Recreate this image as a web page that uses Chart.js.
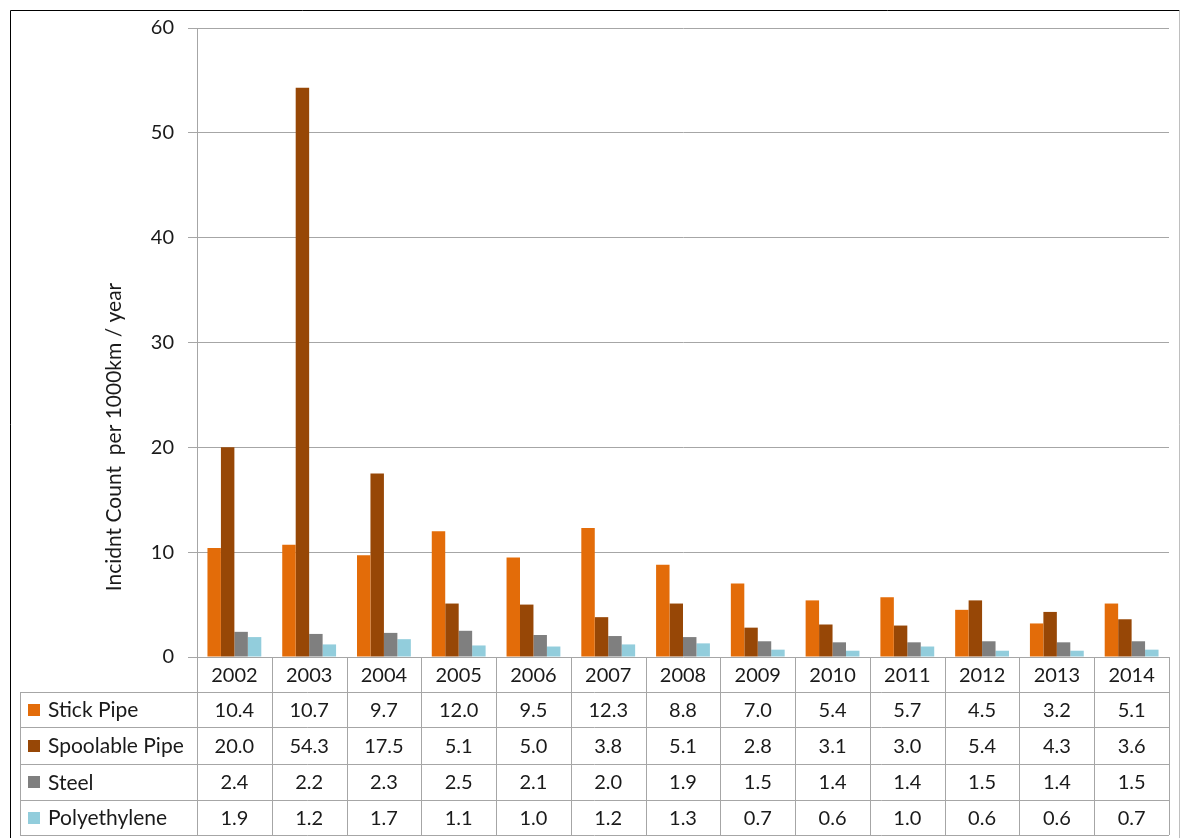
<!DOCTYPE html>
<html>
<head>
<meta charset="utf-8">
<title>Incident Count per 1000km / year</title>
<script src="https://cdn.jsdelivr.net/npm/chart.js@4.4.1/dist/chart.umd.min.js"></script>
<style>
  html, body { margin: 0; padding: 0; background: #ffffff; }
  #wrap { position: relative; width: 1181px; height: 838px; }
  canvas { display: block; }
</style>
</head>
<body>
<div id="wrap"><canvas id="chart" width="1181" height="838"></canvas></div>
<script>
// Categories and series values
const years = ['2002','2003','2004','2005','2006','2007','2008','2009','2010','2011','2012','2013','2014'];
const stickPipe     = [10.4, 10.7, 9.7, 12.0, 9.5, 12.3, 8.8, 7.0, 5.4, 5.7, 4.5, 3.2, 5.1];
const spoolablePipe = [20.0, 54.3, 17.5, 5.1, 5.0, 3.8, 5.1, 2.8, 3.1, 3.0, 5.4, 4.3, 3.6];
const steel         = [2.4, 2.2, 2.3, 2.5, 2.1, 2.0, 1.9, 1.5, 1.4, 1.4, 1.5, 1.4, 1.5];
const polyethylene  = [1.9, 1.2, 1.7, 1.1, 1.0, 1.2, 1.3, 0.7, 0.6, 1.0, 0.6, 0.6, 0.7];
const seriesNames   = ['Stick Pipe', 'Spoolable Pipe', 'Steel', 'Polyethylene'];
const yTicks        = [0, 10, 20, 30, 40, 50, 60];
const yTitle        = 'Incidnt Count  per 1000km / year';

const colors = ['#E36C09', '#974706', '#7F7F7F', '#92CDDC'];
const FONT = 'Lato, "Open Sans", sans-serif';
const TEXT = '#1a1a1a';
const LINE = '#A6A6A6';

// Data table under the plot, aligned to the category scale
const dataTablePlugin = {
  id: 'dataTable',
  afterDraw(chart) {
    const ctx = chart.ctx;
    const area = chart.chartArea;
    const xs = chart.scales.x;
    const n = years.length;
    const w = (area.right - area.left) / n;
    const rowsY = [area.bottom, 692, 727, 764, 800, 835];
    const tableLeft = 20;

    ctx.save();
    ctx.strokeStyle = LINE;
    ctx.lineWidth = 1;

    // horizontal rules
    for (let r = 1; r < rowsY.length; r++) {
      const y = Math.round(rowsY[r]) + 0.5;
      ctx.beginPath();
      ctx.moveTo(tableLeft, y);
      ctx.lineTo(area.right, y);
      ctx.stroke();
    }
    // vertical rules between categories
    for (let i = 0; i <= n; i++) {
      const x = Math.round(area.left + i * w) + 0.5;
      ctx.beginPath();
      ctx.moveTo(x, area.bottom);
      ctx.lineTo(x, rowsY[rowsY.length - 1]);
      ctx.stroke();
    }
    // left edge of label column
    ctx.beginPath();
    ctx.moveTo(tableLeft + 0.5, rowsY[1]);
    ctx.lineTo(tableLeft + 0.5, rowsY[rowsY.length - 1]);
    ctx.stroke();

    ctx.fillStyle = TEXT;
    ctx.font = '20px ' + FONT;
    ctx.textAlign = 'center';
    ctx.textBaseline = 'middle';

    // header row: years
    years.forEach((yr, i) => {
      const cx = xs.getPixelForValue(i);
      ctx.fillText(yr, cx, (rowsY[0] + rowsY[1]) / 2 + 1);
    });

    // value rows
    const series = [stickPipe, spoolablePipe, steel, polyethylene];
    series.forEach((vals, r) => {
      const cy = (rowsY[r + 1] + rowsY[r + 2]) / 2 + 1;
      ctx.font = '20px ' + FONT;
      vals.forEach((v, i) => {
        ctx.fillStyle = TEXT;
        ctx.textAlign = 'center';
        ctx.fillText(v.toFixed(1), xs.getPixelForValue(i), cy);
      });
      // legend key and series name
      ctx.fillStyle = colors[r];
      ctx.fillRect(28, Math.round(cy - 7), 12, 12);
      ctx.fillStyle = TEXT;
      ctx.textAlign = 'left';
      ctx.font = '21px ' + FONT;
      ctx.fillText(seriesNames[r], 48, cy);
    });

    // rotated axis title, centred on plot + table block
    ctx.save();
    ctx.translate(114, 437);
    ctx.rotate(-Math.PI / 2);
    ctx.textAlign = 'center';
    ctx.textBaseline = 'middle';
    ctx.font = '21px ' + FONT;
    ctx.fillStyle = TEXT;
    ctx.fillText(yTitle, 0, 0);
    ctx.restore();

    // outer frame
    ctx.strokeStyle = '#000000';
    ctx.beginPath();
    ctx.moveTo(10.5, 838);
    ctx.lineTo(10.5, 10.5);
    ctx.lineTo(1179.5, 10.5);
    ctx.stroke();
    ctx.strokeStyle = '#BFBFBF';
    ctx.beginPath();
    ctx.moveTo(1179.5, 10.5);
    ctx.lineTo(1179.5, 838);
    ctx.stroke();
    ctx.restore();
  }
};

new Chart(document.getElementById('chart'), {
  type: 'bar',
  data: {
    labels: years,
    datasets: [
      { label: seriesNames[0], data: stickPipe,     backgroundColor: colors[0] },
      { label: seriesNames[1], data: spoolablePipe, backgroundColor: colors[1] },
      { label: seriesNames[2], data: steel,         backgroundColor: colors[2] },
      { label: seriesNames[3], data: polyethylene,  backgroundColor: colors[3] }
    ]
  },
  options: {
    responsive: false,
    animation: false,
    layout: { padding: { top: 28, right: 12, bottom: 181, left: 0 } },
    datasets: { bar: { categoryPercentage: 0.72, barPercentage: 1.0, borderWidth: 0 } },
    plugins: { legend: { display: false }, tooltip: { enabled: false } },
    scales: {
      x: { display: false },
      y: {
        min: 0,
        max: 60,
        afterFit(scale) { scale.width = 197; },
        afterBuildTicks(scale) { scale.ticks = yTicks.map(v => ({ value: v })); },
        ticks: { color: TEXT, font: { family: FONT, size: 20 }, padding: 14 },
        grid: { color: LINE, lineWidth: 1, tickLength: 9, drawTicks: true },
        border: { display: true, color: LINE, width: 1 }
      }
    }
  },
  plugins: [dataTablePlugin]
});
</script>
</body>
</html>
